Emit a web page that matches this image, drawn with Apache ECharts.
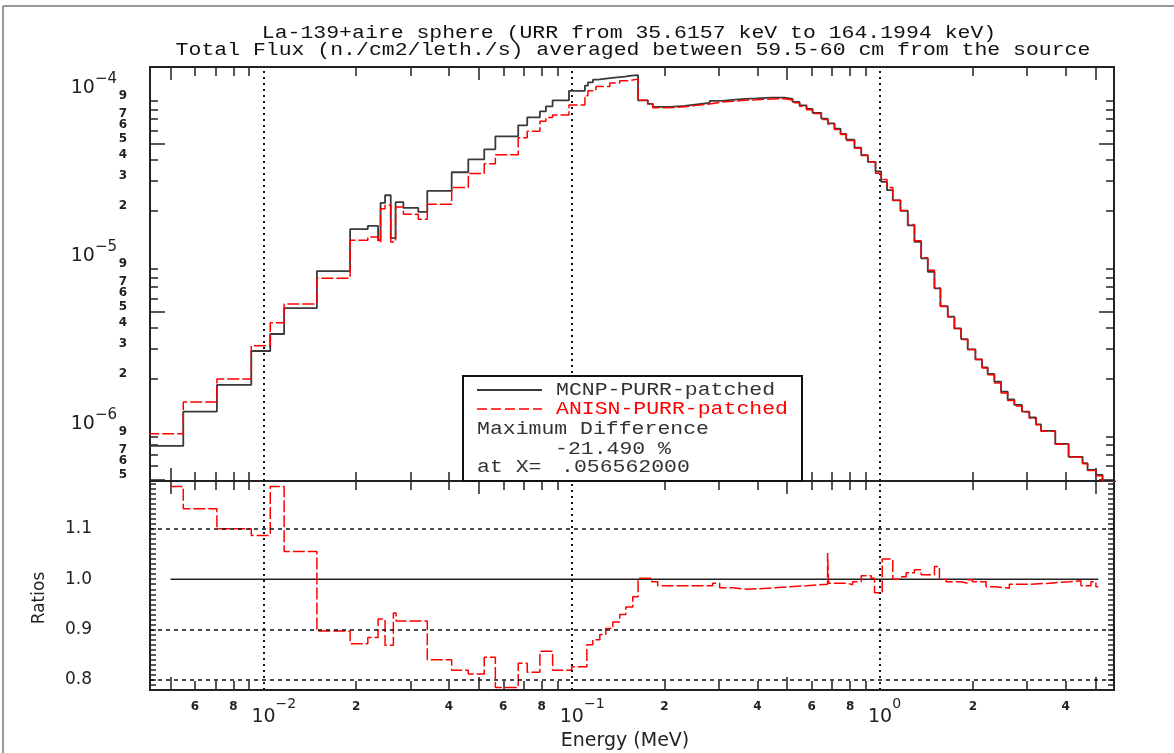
<!DOCTYPE html>
<html><head><meta charset="utf-8">
<script src="https://cdn.jsdelivr.net/npm/echarts@6/dist/echarts.min.js"></script>
<style>html,body{margin:0;padding:0;background:#fff}#c{width:1174px;height:753px}</style>
</head><body><div id="c"></div>
<script>
// ---------- DATA ----------
// MCNP-PURR-patched: lower bin edges (MeV) and flux for the coarse part
const mcnpCoarseEdges = [0.0042, 0.0055, 0.00707, 0.00914, 0.01053, 0.01168, 0.01492, 0.01912, 0.02182, 0.02356, 0.0240, 0.02482, 0.0259, 0.02685, 0.02846, 0.03182, 0.03402, 0.04082, 0.04621, 0.05205, 0.05656, 0.06709, 0.07176, 0.07888, 0.08249, 0.08673, 0.098, 0.1104, 0.1129, 0.1172, 0.1216, 0.1330, 0.1487, 0.1563];
const mcnpCoarseFlux = [7.93e-7, 1.269e-6, 1.829e-6, 2.913e-6, 3.677e-6, 5.248e-6, 8.71e-6, 1.548e-5, 1.619e-5, 1.331e-5, 2.218e-5, 2.464e-5, 1.368e-5, 2.240e-5, 2.071e-5, 1.961e-5, 2.615e-5, 3.377e-5, 4.034e-5, 4.627e-5, 5.528e-5, 6.427e-5, 7.17e-5, 7.78e-5, 8.34e-5, 9.05e-5, 1.031e-4, 1.107e-4, 1.158e-4, 1.202e-4, 1.228e-4, 1.252e-4, 1.269e-4, 1.279e-4];
// ANISN-PURR-patched coarse part
const anisnCoarseEdges = [0.0042, 0.0055, 0.00707, 0.00914, 0.01053, 0.01168, 0.01492, 0.01912, 0.02182, 0.02356, 0.0240, 0.02482, 0.0259, 0.02685, 0.02846, 0.03182, 0.03402, 0.04082, 0.04621, 0.05205, 0.05656, 0.06709, 0.07176, 0.07888, 0.08249, 0.08673, 0.098, 0.1104, 0.1129, 0.1198, 0.1330, 0.1432, 0.1521];
const anisnCoarseFlux = [9.35e-7, 1.449e-6, 1.985e-6, 3.131e-6, 4.29e-6, 5.54e-6, 7.91e-6, 1.331e-5, 1.39e-5, 1.30e-5, 2.05e-5, 2.149e-5, 1.30e-5, 2.10e-5, 1.90e-5, 1.774e-5, 2.18e-5, 2.74e-5, 3.318e-5, 3.80e-5, 4.30e-5, 5.43e-5, 5.92e-5, 6.79e-5, 7.15e-5, 7.41e-5, 8.49e-5, 9.65e-5, 1.033e-4, 1.096e-4, 1.147e-4, 1.185e-4, 1.211e-4];
// fine group edges above the URR (last entry = upper edge of last bin)
const fineEdges = [0.1642, 0.1765, 0.1833, 0.2080, 0.2326, 0.2544, 0.2804, 0.3066, 0.3329, 0.3640, 0.3981, 0.4418, 0.4905, 0.5206, 0.5484, 0.5778, 0.6043, 0.6450, 0.6774, 0.7120, 0.7448, 0.7772, 0.8266, 0.8692, 0.9130, 0.9670, 1.009, 1.0536, 1.1003, 1.1651, 1.2303, 1.2934, 1.3598, 1.4287, 1.5017, 1.5704, 1.6584, 1.7432, 1.8323, 1.9248, 2.0390, 2.1434, 2.2347, 2.3491, 2.4695, 2.5942, 2.7274, 2.8883, 3.0505, 3.2063, 3.3282, 3.7029, 4.0889, 4.5394, 4.7117, 5.0153, 5.2689, 6.0];
const mcnpFineFlux = [9.05e-5, 8.63e-5, 8.28e-5, 8.39e-5, 8.57e-5, 8.74e-5, 8.99e-5, 9.11e-5, 9.24e-5, 9.30e-5, 9.39e-5, 9.39e-5, 9.24e-5, 8.86e-5, 8.45e-5, 8.06e-5, 7.63e-5, 7.04e-5, 6.60e-5, 6.14e-5, 5.72e-5, 5.28e-5, 4.74e-5, 4.26e-5, 3.89e-5, 3.42e-5, 2.96e-5, 2.64e-5, 2.30e-5, 1.99e-5, 1.63e-5, 1.30e-5, 1.036e-5, 8.63e-6, 6.87e-6, 5.39e-6, 4.66e-6, 3.97e-6, 3.43e-6, 2.98e-6, 2.60e-6, 2.33e-6, 2.13e-6, 1.91e-6, 1.67e-6, 1.50e-6, 1.39e-6, 1.27e-6, 1.17e-6, 1.065e-6, 9.74e-7, 8.15e-7, 6.83e-7, 6.26e-7, 5.71e-7, 5.33e-7, 4.85e-7];
const anisnFineFlux = [9.05e-5, 8.60e-5, 8.18e-5, 8.28e-5, 8.45e-5, 8.62e-5, 8.84e-5, 8.94e-5, 9.06e-5, 9.13e-5, 9.23e-5, 9.25e-5, 9.11e-5, 8.75e-5, 8.34e-5, 7.97e-5, 7.55e-5, 6.97e-5, 6.54e-5, 6.08e-5, 5.66e-5, 5.22e-5, 4.70e-5, 4.28e-5, 3.90e-5, 3.33e-5, 3.06e-5, 2.74e-5, 2.30e-5, 2.00e-5, 1.65e-5, 1.32e-5, 1.046e-5, 8.80e-6, 6.90e-6, 5.36e-6, 4.64e-6, 3.95e-6, 3.41e-6, 2.97e-6, 2.59e-6, 2.31e-6, 2.10e-6, 1.88e-6, 1.64e-6, 1.48e-6, 1.37e-6, 1.26e-6, 1.16e-6, 1.06e-6, 9.68e-7, 8.10e-7, 6.80e-7, 6.20e-7, 5.65e-7, 5.26e-7, 4.80e-7];
// Ratio ANISN/MCNP: lower edges (+ final upper edge) and values
const ratioEdges = [0.005, 0.0055, 0.00707, 0.00914, 0.01053, 0.01168, 0.01492, 0.01912, 0.02182, 0.02356, 0.02482, 0.02641, 0.02695, 0.03402, 0.04082, 0.04621, 0.05205, 0.05656, 0.06709, 0.07176, 0.07888, 0.08673, 0.1, 0.1120, 0.1171, 0.1234, 0.1290, 0.1360, 0.1432, 0.1498, 0.1578, 0.1642, 0.1819, 0.1902, 0.2867, 0.3020, 0.3329, 0.3694, 0.4288, 0.5089, 0.5778, 0.6761, 0.6812, 0.7847, 0.8145, 0.8692, 0.9364, 0.9598, 1.0166, 1.1003, 1.1567, 1.2159, 1.2934, 1.3598, 1.5017, 1.5586, 1.6387, 1.8323, 1.9248, 1.9935, 2.2082, 2.3786, 2.6272, 3.0505, 3.5408, 4.1108, 4.4854, 4.8335, 5.0153, 5.103];
const ratioValues = [1.184, 1.14, 1.10, 1.087, 1.184, 1.055, 0.897, 0.872, 0.884, 0.921, 0.869, 0.933, 0.917, 0.840, 0.819, 0.812, 0.845, 0.785, 0.833, 0.815, 0.857, 0.819, 0.826, 0.870, 0.880, 0.890, 0.902, 0.915, 0.930, 0.945, 0.965, 1.002, 0.995, 0.987, 0.992, 0.983, 0.980, 0.982, 0.985, 0.987, 0.990, 1.052, 0.992, 0.989, 0.995, 1.007, 1.002, 0.973, 1.040, 1.000, 1.005, 1.013, 1.019, 1.009, 1.025, 1.000, 0.995, 0.992, 0.999, 0.995, 0.985, 0.982, 0.990, 0.992, 0.995, 0.997, 0.987, 0.995, 0.985];
const unityRange = [0.005, 5.103];

// tick values / labels
const xMinorTicks = [0.006, 0.007, 0.008, 0.009, 0.02, 0.03, 0.04, 0.06, 0.07, 0.08, 0.09, 0.2, 0.3, 0.4, 0.6, 0.7, 0.8, 0.9, 2, 3, 4];
const xLongTicks = [0.005, 0.05, 0.5, 5];
const xLabelValues = [0.006, 0.008, 0.01, 0.02, 0.04, 0.06, 0.08, 0.1, 0.2, 0.4, 0.6, 0.8, 1, 2, 4];
const yMinorTicks = [6e-7, 7e-7, 8e-7, 9e-7, 2e-6, 3e-6, 4e-6, 6e-6, 7e-6, 8e-6, 9e-6, 2e-5, 3e-5, 4e-5, 6e-5, 7e-5, 8e-5, 9e-5];
const yLongTicks = [5e-7, 5e-6, 5e-5];
const yMinorLabelValues = [5e-7, 6e-7, 7e-7, 9e-7, 2e-6, 3e-6, 4e-6, 5e-6, 6e-6, 7e-6, 9e-6, 2e-5, 3e-5, 4e-5, 5e-5, 6e-5, 7e-5, 9e-5];
const yDecadeLabelValues = [1e-6, 1e-5, 1e-4];
const ratioLabelValues = [0.8, 0.9, 1.0, 1.1];
const ratioTicks = [];
for (let i = 78; i <= 119; i++) ratioTicks.push(i / 100);

// ---------- build ----------
function steps(edges, vals) {
  const d = vals.map((v, i) => [edges[i], v]);
  d.push([edges[vals.length], vals[vals.length - 1]]);
  return d;
}
const mcnpData = steps(mcnpCoarseEdges.concat(fineEdges), mcnpCoarseFlux.concat(mcnpFineFlux));
const anisnData = steps(anisnCoarseEdges.concat(fineEdges), anisnCoarseFlux.concat(anisnFineFlux));
const ratioData = steps(ratioEdges, ratioValues);

const X_MIN = 0.00429, X_MAX = 5.74, Y_MIN = 4.9e-7, Y_MAX = 1.43e-4, R_MIN = 0.78, R_MAX = 1.195;
const INK = '#222';
const FONT = 'DejaVu Sans';
const MONO = '19px "Liberation Mono"';

function expo(e) { return (e < 0 ? '\u2212' : '') + Math.abs(e); }
function xFmt(v) {
  const e = Math.floor(Math.log10(v) + 1e-9);
  const m = Math.round(v / Math.pow(10, e));
  if (m === 1) { return '{' + (e < 0 ? 'b2' : 'b1') + '|10}{s|' + expo(e) + '}'; }
  return '{m|' + m + '}';
}
function yFmt(v) {
  const e = Math.floor(Math.log10(v) + 1e-9);
  const m = Math.round(v / Math.pow(10, e));
  if (m === 1) return '{b|10}{s|' + expo(e) + '}';
  return '{m|' + m + '}';
}
function xAx(grid, pos, ticks, len, label) {
  return {
    type: 'log', logBase: 10, gridIndex: grid, position: pos, min: X_MIN, max: X_MAX,
    axisLine: { show: true, onZero: false, lineStyle: { color: INK, width: 2 } },
    axisTick: { show: true, inside: true, length: len, customValues: ticks, lineStyle: { color: INK, width: 1.5 } },
    axisLabel: label || { show: false },
    splitLine: { show: false }, minorTick: { show: false }, minorSplitLine: { show: false }
  };
}
function yAx(grid, pos, type, min, max, ticks, len, label) {
  const a = {
    type: type, gridIndex: grid, position: pos, min: min, max: max,
    axisLine: { show: true, onZero: false, lineStyle: { color: INK, width: 2 } },
    axisTick: { show: true, inside: true, length: len, customValues: ticks, lineStyle: { color: INK, width: 1.5 } },
    axisLabel: label || { show: false },
    splitLine: { show: false }, minorTick: { show: false }, minorSplitLine: { show: false }
  };
  if (type === 'log') a.logBase = 10;
  return a;
}
const xLabel = {
  show: true, customValues: xLabelValues, margin: 7, formatter: xFmt,
  showMinLabel: true, showMaxLabel: true, hideOverlap: false,
  rich: {
    b1: { fontFamily: FONT, fontSize: 19, color: INK, lineHeight: 40, padding: [0, 0, 0, 9] },
    b2: { fontFamily: FONT, fontSize: 19, color: INK, lineHeight: 40, padding: [0, 0, 0, 21] },
    s: { fontFamily: FONT, fontSize: 14, color: INK, lineHeight: 14, verticalAlign: 'top' },
    m: { fontFamily: FONT, fontWeight: 'bold', fontSize: 12, color: INK, lineHeight: 20 }
  }
};
const yRich = {
  b: { fontFamily: FONT, fontSize: 19, color: INK, lineHeight: 32 },
  s: { fontFamily: FONT, fontSize: 15, color: INK, lineHeight: 14, verticalAlign: 'top', padding: [0, 10, 0, 0] },
  m: { fontFamily: FONT, fontWeight: 'bold', fontSize: 12, color: INK, lineHeight: 12 }
};
const yMinorLabel = {
  show: true, customValues: yMinorLabelValues, margin: 23, formatter: yFmt,
  showMinLabel: true, showMaxLabel: true, hideOverlap: false, padding: [0, 0, 10, 0], rich: yRich
};
const yDecadeLabel = {
  show: true, customValues: yDecadeLabelValues, margin: 23, formatter: yFmt,
  showMinLabel: true, showMaxLabel: true, hideOverlap: false, padding: [0, 0, 10, 0], rich: yRich
};
const rLabel = {
  show: true, customValues: ratioLabelValues, margin: 58, formatter: v => v.toFixed(1),
  showMinLabel: true, showMaxLabel: true,
  fontFamily: FONT, fontSize: 17, color: INK
};
const gridDot = { color: '#111', width: 1.5, type: [4, 4] };
const gridDotV = { color: '#111', width: 2, type: [2, 4] };
function ml(items) {
  return { silent: true, symbol: 'none', label: { show: false }, animation: false, data: items };
}
function txt(x, y, s, fill, align) {
  return { type: 'text', z: 101, x: x, y: y, scaleX: 1.13, style: { text: s, font: MONO, fill: fill, textAlign: align || 'left', textVerticalAlign: 'middle' } };
}

const option = {
  animation: false,
  backgroundColor: '#fff',
  grid: [
    { left: 150, top: 67, width: 964, height: 414 },
    { left: 150, top: 481, width: 964, height: 209 }
  ],
  xAxis: [
    xAx(0, 'bottom', xMinorTicks, 9),
    xAx(0, 'top', xMinorTicks, 9),
    xAx(0, 'bottom', xLongTicks, 13),
    xAx(0, 'top', xLongTicks, 13),
    xAx(1, 'bottom', xMinorTicks, 9, xLabel),
    xAx(1, 'top', xMinorTicks, 9),
    xAx(1, 'bottom', xLongTicks, 13),
    xAx(1, 'top', xLongTicks, 13)
  ],
  yAxis: [
    yAx(0, 'left', 'log', Y_MIN, Y_MAX, yMinorTicks, 8, yMinorLabel),
    yAx(0, 'left', 'log', Y_MIN, Y_MAX, yLongTicks, 15, yDecadeLabel),
    yAx(0, 'right', 'log', Y_MIN, Y_MAX, yMinorTicks, 8),
    yAx(0, 'right', 'log', Y_MIN, Y_MAX, yLongTicks, 15),
    yAx(1, 'left', 'value', R_MIN, R_MAX, ratioTicks, 6, rLabel),
    yAx(1, 'right', 'value', R_MIN, R_MAX, ratioTicks, 6)
  ],
  series: [
    {
      name: 'MCNP-PURR-patched', type: 'line', xAxisIndex: 0, yAxisIndex: 0, step: 'end',
      showSymbol: false, symbol: 'none', data: mcnpData,
      lineStyle: { color: '#3a3a3a', width: 1.8 }, z: 3,
      markLine: Object.assign(ml([
        { yAxis: 1e-4, lineStyle: gridDot }, { yAxis: 1e-5, lineStyle: gridDot }, { yAxis: 1e-6, lineStyle: gridDot },
        { xAxis: 0.01, lineStyle: gridDotV }, { xAxis: 0.1, lineStyle: gridDotV }, { xAxis: 1, lineStyle: gridDotV }
      ]), { z: 1 })
    },
    {
      name: 'ANISN-PURR-patched', type: 'line', xAxisIndex: 0, yAxisIndex: 0, step: 'end',
      showSymbol: false, symbol: 'none', data: anisnData,
      lineStyle: { color: '#ff0000', width: 1.5, type: [12, 3] }, z: 4
    },
    {
      name: 'Ratio', type: 'line', xAxisIndex: 4, yAxisIndex: 4, step: 'end',
      showSymbol: false, symbol: 'none', data: ratioData,
      lineStyle: { color: '#ff0000', width: 1.5, type: [12, 3] }, z: 4,
      markLine: ml([
        { yAxis: 0.8, lineStyle: gridDot }, { yAxis: 0.9, lineStyle: gridDot }, { yAxis: 1.1, lineStyle: gridDot },
        { xAxis: 0.01, lineStyle: gridDotV }, { xAxis: 0.1, lineStyle: gridDotV }, { xAxis: 1, lineStyle: gridDotV }
      ])
    },
    {
      name: 'Unity', type: 'line', xAxisIndex: 4, yAxisIndex: 4,
      showSymbol: false, symbol: 'none', data: [[unityRange[0], 1], [unityRange[1], 1]],
      lineStyle: { color: '#222', width: 1.5 }, z: 3
    }
  ],
  graphic: [
    { type: 'line', z: 100, shape: { x1: 3, y1: 6, x2: 1174, y2: 6 }, style: { stroke: '#999', lineWidth: 2 } },
    { type: 'line', z: 100, shape: { x1: 3, y1: 6, x2: 3, y2: 753 }, style: { stroke: '#999', lineWidth: 2 } },
    txt(629, 33, 'La-139+aire sphere (URR from 35.6157 keV to 164.1994 keV)', '#111', 'center'),
    txt(633, 50, 'Total Flux (n./cm2/leth./s) averaged between 59.5-60 cm from the source', '#111', 'center'),
    { type: 'text', z: 100, x: 40, y: 598, rotation: Math.PI / 2, style: { text: 'Ratios', font: '17px "DejaVu Sans"', fill: INK, textAlign: 'center', textVerticalAlign: 'middle' } },
    { type: 'text', z: 100, x: 625, y: 741, style: { text: 'Energy (MeV)', font: '19px "DejaVu Sans"', fill: INK, textAlign: 'center', textVerticalAlign: 'middle' } },
    { type: 'rect', z: 100, shape: { x: 463, y: 376, width: 339, height: 105 }, style: { fill: '#fff', stroke: '#111', lineWidth: 2 } },
    { type: 'line', z: 101, shape: { x1: 477, y1: 390, x2: 542, y2: 390 }, style: { stroke: '#3a3a3a', lineWidth: 1.8 } },
    { type: 'line', z: 101, shape: { x1: 477, y1: 409, x2: 542, y2: 409 }, style: { stroke: '#ff0000', lineWidth: 1.5, lineDash: [10, 4] } },
    txt(556, 390, 'MCNP-PURR-patched', '#333'),
    txt(556, 409, 'ANISN-PURR-patched', '#ff0000'),
    txt(477, 429, 'Maximum Difference', '#333'),
    txt(555, 449, '-21.490 %', '#333'),
    txt(477, 467, 'at X=', '#333'),
    txt(561, 467, '.056562000', '#333')
  ]
};
const chart = echarts.init(document.getElementById('c'), null, { renderer: 'canvas' });
chart.setOption(option);
</script>
</body></html>
